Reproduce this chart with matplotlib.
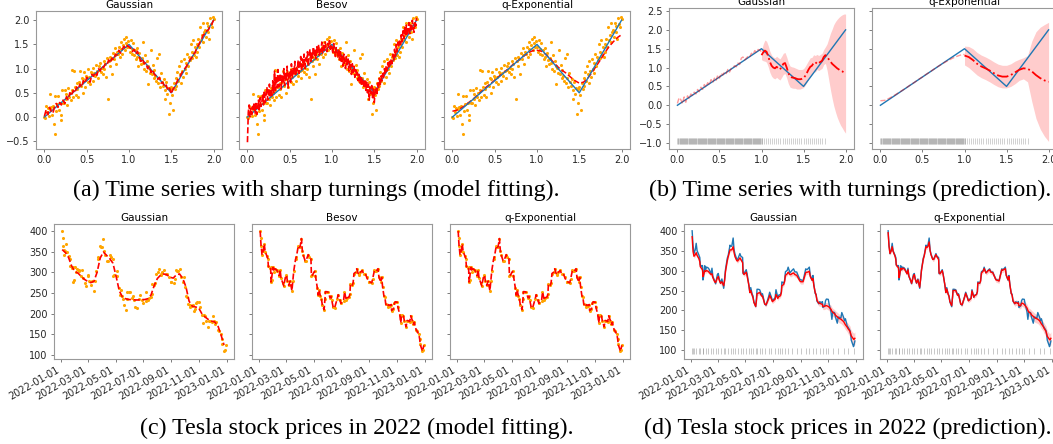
import matplotlib.pyplot as plt
import matplotlib.dates as mdates
from matplotlib.ticker import MultipleLocator
import numpy as np
import pandas as pd

# ---------------- (a)/(b): series with turnings ----------------
turn_x = [0.0, 1.0, 1.5, 2.0]
turn_y = [0.0, 1.5, 0.5, 2.0]

# noisy observations on x = 0, 0.01, ..., 2.0
obs_y = [
    0.00, -0.03, 0.22, 0.10, 0.18, 0.03, 0.48, 0.16, 0.20, 0.05,
    0.23, -0.15, -0.35, 0.43, 0.12, 0.27, 0.44, 0.15, 0.30, 0.05,
    -0.07, 0.55, 0.28, 0.30, 0.56, 0.38, 0.48, 0.25, 0.60, 0.42,
    0.50, 0.35, 0.97, 0.55, 0.42, 0.96, 0.62, 0.45, 0.70, 0.58,
    0.42, 0.72, 0.95, 0.65, 0.80, 0.50, 0.78, 0.92, 0.62, 0.85,
    0.80, 0.72, 1.00, 0.82, 0.68, 0.93, 0.88, 0.75, 1.02, 0.90,
    0.85, 1.08, 0.95, 0.80, 1.05, 0.98, 1.12, 0.92, 1.02, 0.88,
    1.15, 1.00, 1.10, 0.82, 1.22, 0.38, 1.15, 1.25, 1.05, 1.20,
    0.88, 1.32, 1.20, 1.42, 1.28, 1.10, 1.35, 1.30, 1.45, 1.25,
    1.40, 1.55, 1.30, 1.48, 1.62, 1.38, 1.52, 1.65, 1.44, 1.58,
    1.45, 1.35, 1.60, 1.40, 1.30, 1.52, 1.28, 1.38, 1.20, 1.42,
    1.25, 1.05, 1.32, 1.18, 1.10, 1.22, 1.55, 1.12, 1.00, 1.28,
    0.95, 1.15, 0.68, 1.05, 1.02, 0.90, 1.38, 0.88, 1.08, 0.80,
    0.98, 0.85, 0.75, 1.22, 0.70, 1.30, 0.80, 0.62, 0.90, 0.72,
    0.65, 0.78, 0.55, 0.38, 0.72, 0.48, 0.60, 0.07, 0.58, 0.30,
    0.62, 0.45, 0.15, 0.70, 0.58, 0.80, 0.65, 0.92, 0.75, 1.05,
    0.88, 0.70, 1.15, 0.95, 0.82, 1.20, 1.00, 0.90, 1.12, 1.30,
    1.05, 1.25, 1.18, 1.50, 1.22, 1.35, 1.60, 1.28, 1.45, 1.25,
    1.50, 1.35, 1.62, 1.45, 1.85, 1.60, 1.70, 1.95, 1.55, 1.75,
    1.80, 1.65, 1.95, 1.75, 1.88, 1.62, 2.05, 1.92, 1.85, 2.07,
    2.02,
]

# Gaussian fit on x step 0.02
gauss_fit = [
    0.02, 0.15, 0.05, 0.20, 0.12, 0.08, 0.22, 0.28, 0.20, 0.30,
    0.25, 0.35, 0.28, 0.42, 0.36, 0.50, 0.44, 0.55, 0.50, 0.62,
    0.58, 0.68, 0.62, 0.75, 0.70, 0.82, 0.78, 0.72, 0.88, 0.84,
    0.92, 0.86, 1.00, 0.95, 1.05, 1.02, 1.10, 1.08, 1.18, 1.12,
    1.22, 1.18, 1.30, 1.28, 1.38, 1.32, 1.40, 1.46, 1.42, 1.48,
    1.45, 1.42, 1.35, 1.40, 1.30, 1.36, 1.25, 1.15, 1.20, 1.10,
    1.12, 1.00, 1.05, 0.92, 0.98, 0.88, 0.85, 0.78, 0.82, 0.70,
    0.72, 0.62, 0.66, 0.55, 0.60, 0.48, 0.58, 0.62, 0.70, 0.78,
    0.82, 0.90, 0.95, 1.00, 1.05, 1.12, 1.18, 1.22, 1.30, 1.32,
    1.42, 1.48, 1.55, 1.62, 1.70, 1.72, 1.78, 1.80, 1.88, 1.92,
    2.00,
]

# Besov fit on x step 0.01
besov_fit = [
    -0.52, 0.10, 0.25, 0.00, 0.18, 0.05, 0.22, 0.12, 0.30, 0.08,
    0.28, 0.05, 0.18, 0.35, 0.15, 0.40, 0.22, 0.30, 0.48, 0.25,
    0.55, 0.30, 0.42, 0.62, 0.35, 0.50, 0.68, 0.40, 0.58, 0.45,
    0.75, 0.50, 0.95, 0.55, 0.85, 0.60, 0.98, 0.62, 0.78, 0.90,
    0.58, 0.85, 0.70, 1.00, 0.65, 0.92, 0.75, 1.05, 0.60, 0.88,
    0.95, 0.72, 1.10, 0.80, 1.00, 0.88, 1.15, 0.85, 1.05, 0.95,
    1.18, 0.90, 1.10, 1.25, 0.95, 1.20, 1.05, 1.30, 1.00, 1.22,
    1.12, 1.35, 1.05, 1.28, 1.40, 1.15, 1.32, 1.22, 1.45, 1.25,
    1.38, 1.20, 1.45, 1.30, 1.50, 1.28, 1.42, 1.35, 1.55, 1.32,
    1.48, 1.38, 1.55, 1.42, 1.35, 1.52, 1.45, 1.58, 1.40, 1.50,
    1.45, 1.30, 1.52, 1.38, 1.25, 1.45, 1.32, 1.22, 1.40, 1.18,
    1.35, 1.15, 1.28, 1.05, 1.30, 1.12, 1.00, 1.25, 1.08, 1.20,
    0.95, 1.15, 1.00, 0.88, 1.10, 0.92, 1.05, 0.82, 0.98, 0.85,
    0.92, 0.75, 0.88, 0.70, 0.85, 0.65, 0.80, 0.72, 0.60, 0.78,
    0.55, 0.72, 0.50, 0.68, 0.35, 0.62, 0.48, 0.65, 0.40, 0.58,
    0.30, 0.55, 0.62, 0.45, 0.70, 0.58, 0.80, 0.65, 0.85, 0.75,
    0.90, 0.80, 1.00, 0.88, 1.05, 0.95, 1.12, 1.00, 1.15, 1.08,
    1.20, 1.10, 1.30, 1.18, 1.40, 1.25, 1.50, 1.35, 1.55, 1.45,
    1.60, 1.50, 1.70, 1.55, 1.78, 1.62, 1.85, 1.70, 1.90, 1.68,
    1.82, 1.95, 1.72, 1.90, 1.80, 2.00, 1.85, 1.75, 1.98, 1.88,
    2.05,
]

# q-Exponential fit on x step 0.05
qexp_fit = [
    0.12, 0.14, 0.18, 0.24, 0.31, 0.38, 0.46, 0.54, 0.62, 0.69,
    0.76, 0.84, 0.91, 0.98, 1.06, 1.13, 1.20, 1.27, 1.33, 1.37,
    1.38, 1.36, 1.30, 1.22, 1.12, 1.03, 0.96, 0.90, 0.82, 0.75,
    0.70, 0.72, 0.80, 0.92, 1.05, 1.18, 1.32, 1.45, 1.55, 1.64,
    1.70,
]

# (b) prediction: Gaussian, training part x = 0..1 step 0.02
predg_train = [
    0.05, 0.20, 0.15, 0.05, 0.22, 0.08, 0.25, 0.18, 0.30, 0.26,
    0.35, 0.30, 0.42, 0.36, 0.48, 0.42, 0.55, 0.48, 0.60, 0.54,
    0.68, 0.60, 0.72, 0.66, 0.80, 0.72, 0.85, 0.80, 0.88, 0.84,
    0.95, 0.88, 0.98, 1.00, 1.05, 1.02, 1.12, 1.08, 1.25, 1.28,
    1.20, 1.25, 1.30, 1.28, 1.38, 1.35, 1.45, 1.40, 1.48, 1.46,
    1.42,
]
# forecast part x = 1..2 step 0.02
predg_mean = [
    1.33, 1.40, 1.45, 1.42, 1.30, 1.15, 1.05, 1.00, 0.98, 1.02,
    0.98, 0.95, 1.02, 1.10, 1.12, 1.00, 0.85, 0.76, 0.74, 0.73,
    0.72, 0.70, 0.69, 0.69, 0.70, 0.72, 0.78, 0.86, 0.95, 1.02,
    1.05, 1.12, 1.10, 1.15, 1.12, 1.15, 1.18, 1.28, 1.33, 1.28,
    1.22, 1.16, 1.10, 1.06, 1.02, 0.98, 0.95, 0.92, 0.90, 0.87,
    0.84,
]
predg_hw = [
    0.12, 0.22, 0.28, 0.28, 0.28, 0.28, 0.28, 0.28, 0.28, 0.28,
    0.28, 0.28, 0.28, 0.28, 0.28, 0.28, 0.28, 0.28, 0.28, 0.28,
    0.27, 0.27, 0.26, 0.26, 0.25, 0.25, 0.25, 0.25, 0.24, 0.24,
    0.22, 0.22, 0.22, 0.20, 0.20, 0.20, 0.20, 0.20, 0.22, 0.35,
    0.55, 0.75, 0.92, 1.08, 1.20, 1.30, 1.38, 1.45, 1.50, 1.55,
    1.58,
]
# q-Exponential, training x = 0..1 step 0.05, forecast x = 1..2 step 0.05
predq_train = [
    0.12, 0.13, 0.18, 0.24, 0.31, 0.38, 0.45, 0.53, 0.60, 0.68,
    0.75, 0.83, 0.90, 0.98, 1.05, 1.12, 1.18, 1.24, 1.29, 1.33,
    1.35,
]
predq_mean = [
    1.32, 1.28, 1.20, 1.10, 1.03, 0.98, 0.92, 0.85, 0.79, 0.76,
    0.76, 0.80, 0.87, 0.94, 0.98, 0.97, 0.90, 0.80, 0.72, 0.66,
    0.62,
]
predq_hw = [
    0.25, 0.28, 0.30, 0.30, 0.30, 0.30, 0.30, 0.30, 0.30, 0.30,
    0.30, 0.30, 0.30, 0.28, 0.28, 0.35, 0.80, 1.15, 1.35, 1.48,
    1.58,
]

# ---------------- (c)/(d): Tesla 2022 ----------------
tsla_dates = [
    "2022-01-03", "2022-01-04", "2022-01-05", "2022-01-06", "2022-01-07", "2022-01-10",
    "2022-01-12", "2022-01-14", "2022-01-18", "2022-01-20", "2022-01-21", "2022-01-24",
    "2022-01-26", "2022-01-27", "2022-01-28", "2022-01-31",
    "2022-02-02", "2022-02-04", "2022-02-08", "2022-02-10", "2022-02-14", "2022-02-16",
    "2022-02-18", "2022-02-22", "2022-02-24", "2022-02-28",
    "2022-03-02", "2022-03-04", "2022-03-07", "2022-03-10", "2022-03-14", "2022-03-16",
    "2022-03-18", "2022-03-22", "2022-03-24", "2022-03-28", "2022-03-30",
    "2022-04-01", "2022-04-04", "2022-04-06", "2022-04-08", "2022-04-12", "2022-04-14",
    "2022-04-19", "2022-04-21", "2022-04-25", "2022-04-26", "2022-04-28",
    "2022-05-03", "2022-05-05", "2022-05-09", "2022-05-11", "2022-05-13", "2022-05-16",
    "2022-05-18", "2022-05-20", "2022-05-24", "2022-05-26", "2022-05-27", "2022-05-31",
    "2022-06-02", "2022-06-06", "2022-06-08", "2022-06-10", "2022-06-13", "2022-06-16",
    "2022-06-22", "2022-06-24", "2022-06-28", "2022-06-30",
    "2022-07-06", "2022-07-08", "2022-07-12", "2022-07-14", "2022-07-18", "2022-07-20",
    "2022-07-21", "2022-07-25", "2022-07-27", "2022-07-29",
    "2022-08-02", "2022-08-04", "2022-08-08", "2022-08-10", "2022-08-12", "2022-08-16",
    "2022-08-19", "2022-08-23", "2022-08-26", "2022-08-30",
    "2022-09-01", "2022-09-06", "2022-09-08", "2022-09-12", "2022-09-14", "2022-09-16",
    "2022-09-20", "2022-09-22", "2022-09-26", "2022-09-28", "2022-09-30",
    "2022-10-03", "2022-10-05", "2022-10-07", "2022-10-11", "2022-10-13", "2022-10-17",
    "2022-10-19", "2022-10-20", "2022-10-24", "2022-10-26", "2022-10-28",
    "2022-11-01", "2022-11-03", "2022-11-07", "2022-11-09", "2022-11-11", "2022-11-15",
    "2022-11-17", "2022-11-21", "2022-11-23", "2022-11-25", "2022-11-29",
    "2022-12-01", "2022-12-05", "2022-12-07", "2022-12-09", "2022-12-13", "2022-12-15",
    "2022-12-19", "2022-12-21", "2022-12-22", "2022-12-27", "2022-12-28", "2022-12-30",
]
tsla_close = [
    399.9, 383.2, 362.7, 354.9, 342.3, 352.7, 368.5, 349.9, 339.0, 332.7, 314.6, 310.9,
    312.8, 276.4, 282.1, 312.2,
    301.9, 308.9, 306.3, 302.6, 291.9, 306.0, 285.7, 273.8, 266.9, 290.1,
    292.7, 279.7, 268.2, 279.0, 255.5, 279.4, 302.7, 331.3, 338.0, 363.9, 360.6,
    361.5, 381.8, 352.4, 341.8, 328.3, 328.3, 342.7, 336.3, 332.7, 292.1, 292.9,
    302.3, 291.7, 262.4, 244.7, 257.4, 241.5, 236.5, 221.3, 209.4, 236.1, 253.2, 252.8,
    251.7, 238.9, 241.9, 232.2, 215.7, 213.1, 236.1, 245.7, 232.7, 224.5,
    231.7, 252.0, 233.1, 238.3, 240.1, 247.4, 271.7, 268.4, 274.4, 297.1,
    300.6, 308.6, 294.4, 297.1, 300.0, 304.4, 296.7, 296.5, 288.1, 277.7,
    277.2, 274.4, 283.7, 304.4, 302.6, 303.4, 308.7, 288.6, 276.0, 287.8, 265.3,
    242.4, 240.8, 223.1, 216.5, 221.7, 219.4, 222.0, 207.3, 211.3, 224.6, 228.5,
    227.8, 215.3, 197.1, 177.6, 196.0, 194.4, 183.2, 167.9, 183.2, 182.9, 180.8,
    194.7, 182.5, 174.0, 179.1, 161.0, 157.7, 149.9, 137.6, 125.4, 109.1, 112.7, 123.2,
]

# (c) Gaussian fit, weekly from 2022-01-03
gauss_week_start = "2022-01-03"
tsla_gauss_fit = [
    355, 348, 336, 315, 302, 298, 290, 283, 278, 275, 278, 300, 335, 349, 341, 333,
    322, 290, 255, 240, 236, 234, 234, 233, 233, 234, 234, 236, 245, 268, 285, 293,
    296, 294, 288, 286, 294, 296, 285, 265, 230, 218, 216, 214, 200, 192, 186, 182,
    180, 172, 150, 124,
]

# (d) prediction means and band half widths on the same dates
tsla_pred_gauss = [
    385, 365, 348, 342, 336, 340, 345, 338, 330, 322, 310, 305, 302, 285, 288, 300,
    298, 300, 298, 295, 290, 292, 282, 272, 270, 282,
    285, 276, 268, 272, 262, 275, 298, 325, 335, 352, 352,
    352, 360, 345, 335, 325, 324, 332, 328, 320, 295, 290,
    296, 286, 262, 245, 250, 238, 232, 220, 210, 228, 242, 244,
    245, 236, 236, 228, 216, 214, 230, 238, 228, 222,
    228, 240, 230, 234, 237, 245, 262, 265, 272, 288,
    292, 296, 290, 290, 292, 294, 290, 288, 282, 274,
    272, 272, 280, 295, 296, 296, 298, 285, 276, 280, 262,
    245, 238, 225, 218, 218, 216, 215, 210, 210, 212, 212,
    210, 208, 203, 198, 195, 192, 188, 184, 182, 180, 178,
    176, 172, 168, 164, 158, 154, 148, 140, 136, 128, 127, 130,
]
tsla_pred_qexp = [
    395, 378, 360, 352, 343, 350, 360, 348, 337, 328, 314, 309, 308, 282, 286, 306,
    302, 306, 304, 300, 292, 302, 286, 275, 268, 286,
    290, 279, 269, 277, 258, 278, 301, 329, 337, 360, 358,
    360, 372, 350, 340, 328, 328, 340, 335, 328, 294, 292,
    300, 290, 263, 245, 254, 241, 235, 222, 212, 234, 250, 250,
    250, 238, 240, 231, 216, 214, 235, 243, 231, 224,
    230, 249, 233, 237, 240, 247, 269, 268, 273, 294,
    299, 305, 294, 296, 299, 302, 296, 295, 287, 277,
    276, 274, 283, 302, 301, 302, 305, 288, 277, 285, 265,
    243, 238, 224, 217, 220, 218, 219, 212, 212, 218, 218,
    215, 212, 206, 200, 196, 193, 189, 185, 183, 181, 179,
    178, 174, 170, 166, 160, 155, 148, 140, 135, 127, 126, 130,
]
tsla_pred_hw = [
    7, 6, 5, 5, 5, 5, 5, 5, 5, 5, 5, 5, 5, 5, 5, 5,
    5, 5, 5, 5, 5, 5, 5, 5, 5, 5,
    5, 5, 5, 5, 5, 5, 5, 5, 5, 5, 5,
    5, 5, 5, 5, 5, 5, 5, 5, 5, 5, 5,
    5, 5, 5, 5, 5, 5, 5, 5, 5, 5, 5, 5,
    5, 5, 5, 5, 5, 5, 5, 5, 5, 5,
    5, 5, 5, 5, 5, 5, 5, 5, 5, 5,
    5, 5, 5, 6, 6, 6, 6, 6, 6, 6,
    6, 6, 6, 6, 6, 6, 6, 6, 6, 6, 6,
    6, 6, 7, 7, 7, 7, 7, 8, 8, 8, 8,
    9, 9, 10, 10, 10, 10, 11, 11, 11, 11, 11,
    11, 12, 12, 12, 12, 13, 13, 13, 14, 15, 16, 16,
]

captions = [
    "(a) Time series with sharp turnings (model fitting).",
    "(b) Time series with turnings (prediction).",
    "(c) Tesla stock prices in 2022 (model fitting).",
    "(d) Tesla stock prices in 2022 (prediction).",
]

W, H = 1053, 444


def add_ax(fig, left, top, width, height, **kw):
    return fig.add_axes([left / W, 1 - (top + height) / H, width / W, height / H], **kw)


def style(ax, title, show_left=True):
    ax.set_title(title, fontsize=7.5, pad=2.5)
    for sp in ax.spines.values():
        sp.set_color("0.6")
        sp.set_linewidth(0.8)
    ax.tick_params(labelsize=7, length=2.5, width=0.6, color="0.4", pad=2,
                   labelcolor="0.15", labelleft=show_left)


def date_axis(ax):
    ax.xaxis.set_major_locator(mdates.MonthLocator(bymonth=[1, 3, 5, 7, 9, 11]))
    ax.xaxis.set_major_formatter(mdates.DateFormatter("%Y-%m-%d"))
    ax.yaxis.set_major_locator(MultipleLocator(50))
    for lab in ax.get_xticklabels():
        lab.set_rotation(30)
        lab.set_ha("right")


fig = plt.figure(figsize=(W / 100, H / 100), dpi=100)

x_obs = np.linspace(0, 2, len(obs_y))

# ---- (a) model fitting ----
fits_a = [("Gaussian", gauss_fit), ("Besov", besov_fit), ("q-Exponential", qexp_fit)]
lefts_a = [36, 239, 444]
ax0 = None
for i, (name, fit) in enumerate(fits_a):
    ax = add_ax(fig, lefts_a[i], 11, 186, 138, sharey=ax0)
    ax0 = ax0 or ax
    ax.scatter(x_obs, obs_y, s=5, color="orange", linewidths=0, zorder=1)
    if name == "q-Exponential":
        ax.plot(np.linspace(0, 2, len(fit)), fit, "r--", lw=1.1, zorder=2)
        ax.plot(turn_x, turn_y, color="#1f77b4", lw=1.0, zorder=3)
    else:
        ax.plot(turn_x, turn_y, color="#1f77b4", lw=1.0, zorder=2)
        ax.plot(np.linspace(0, 2, len(fit)), fit, "r--", lw=1.2, zorder=3)
    ax.set_xlim(-0.1, 2.1)
    ax.set_ylim(-0.66, 2.19)
    ax.set_xticks([0.0, 0.5, 1.0, 1.5, 2.0])
    ax.yaxis.set_major_locator(MultipleLocator(0.5))
    style(ax, name, show_left=(i == 0))

# ---- (b) prediction ----
preds_b = [
    ("Gaussian", predg_train, predg_mean, predg_hw),
    ("q-Exponential", predq_train, predq_mean, predq_hw),
]
rug_dense = np.linspace(0, 1, 160)
rug_sparse = np.linspace(1, 1.75, 31)
lefts_b = [669, 872]
ax0 = None
for i, (name, train, mean, hw) in enumerate(preds_b):
    ax = add_ax(fig, lefts_b[i], 8, 185, 141, sharey=ax0)
    ax0 = ax0 or ax
    xt = np.linspace(0, 1, len(train))
    xf = np.linspace(1, 2, len(mean))
    mean = np.array(mean)
    hw = np.array(hw)
    ax.fill_between(xf, mean - hw, mean + hw, color="red", alpha=0.2, lw=0)
    ax.plot(turn_x, turn_y, color="#1f77b4", lw=1.0)
    ax.plot(xt, train, "r--", lw=1.0, alpha=0.4)
    ax.plot(xf, mean, "r-.", lw=1.3)
    ax.plot(rug_dense, [-0.95] * len(rug_dense), "|", color="gray", ms=5, mew=0.5, alpha=0.5)
    ax.plot(rug_sparse, [-0.95] * len(rug_sparse), "|", color="gray", ms=5, mew=0.5, alpha=0.5)
    ax.set_xlim(-0.1, 2.1)
    ax.set_ylim(-1.16, 2.58)
    ax.set_xticks([0.0, 0.5, 1.0, 1.5, 2.0])
    ax.yaxis.set_major_locator(MultipleLocator(0.5))
    style(ax, name, show_left=(i == 0))

# ---- (c) Tesla model fitting ----
dates = pd.to_datetime(tsla_dates)
close = np.array(tsla_close)
week_dates = pd.date_range(gauss_week_start, periods=len(tsla_gauss_fit), freq="7D")
fits_c = [("Gaussian", week_dates, tsla_gauss_fit), ("Besov", dates, close),
          ("q-Exponential", dates, close)]
lefts_c = [54, 252, 450]
ax0 = None
for i, (name, fx, fy) in enumerate(fits_c):
    ax = add_ax(fig, lefts_c[i], 224, 180, 135, sharey=ax0)
    ax0 = ax0 or ax
    ax.scatter(dates, close, s=5, color="orange", linewidths=0, zorder=1)
    ax.plot(fx, fy, "r--", lw=1.2, zorder=2)
    ax.set_ylim(90, 417)
    date_axis(ax)
    style(ax, name, show_left=(i == 0))

# ---- (d) Tesla prediction ----
train_idx = [j for j, d in enumerate(dates)
             if (d.month <= 7 and j % 2 == 0) or (8 <= d.month <= 10 and j % 3 == 0)
             or (d.month >= 11 and j % 4 == 0)]
preds_d = [("Gaussian", tsla_pred_gauss), ("q-Exponential", tsla_pred_qexp)]
lefts_d = [684, 880]
ax0 = None
for i, (name, mean) in enumerate(preds_d):
    ax = add_ax(fig, lefts_d[i], 224, 179, 135, sharey=ax0)
    ax0 = ax0 or ax
    mean = np.array(mean, dtype=float)
    hw = np.array(tsla_pred_hw, dtype=float)
    ax.fill_between(dates, mean - hw, mean + hw, color="red", alpha=0.2, lw=0)
    ax.plot(dates, close, color="#1f77b4", lw=1.0)
    ax.plot(dates, mean, color="red", lw=1.0)
    ax.plot(dates[train_idx], [98] * len(train_idx), "|", color="gray", ms=5, mew=0.5, alpha=0.6)
    ax.set_ylim(78, 417)
    date_axis(ax)
    style(ax, name, show_left=(i == 0))

# captions
cap_pos = [(316, 190), (850, 190), (357, 428), (848, 428)]
for text, (cx, cy) in zip(captions, cap_pos):
    fig.text(cx / W, 1 - cy / H, text, ha="center", va="center", fontsize=17.3,
             family="Liberation Serif")

plt.savefig("out.png", dpi=100)
